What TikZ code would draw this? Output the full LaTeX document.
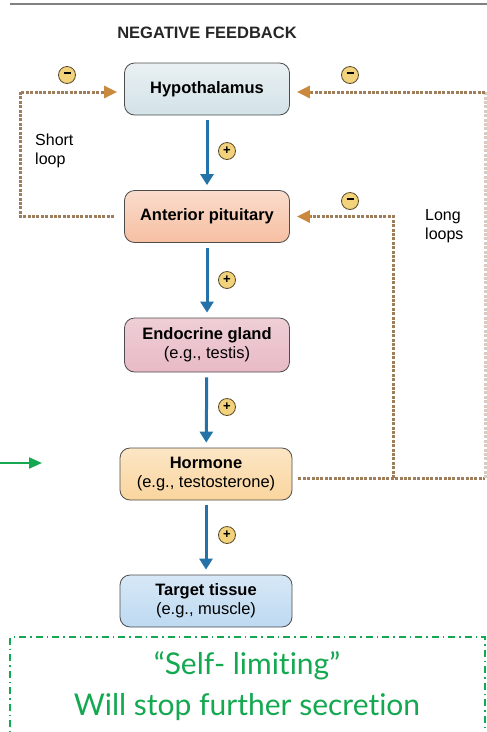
\documentclass[tikz,border=0pt]{standalone}
\usepackage{fontspec}
\setmainfont{Liberation Sans}
\newfontfamily\greenfont[Ligatures={NoCommon}]{Lato}
\usetikzlibrary{arrows.meta,calc}
\definecolor{loopc}{HTML}{9E7D5B}
\definecolor{loophead}{HTML}{C98A3F}
\definecolor{bluec}{HTML}{2472A8}
\definecolor{greenc}{HTML}{14A850}
\definecolor{signfill}{HTML}{F3D27C}
\definecolor{signdraw}{HTML}{5A4A2A}
\definecolor{hypfill}{HTML}{D3E2E7}
\definecolor{antfill}{HTML}{F6BFA2}
\definecolor{endfill}{HTML}{E8BAC5}
\definecolor{horfill}{HTML}{FAD59E}
\definecolor{tarfill}{HTML}{BDD9F1}
\tikzset{
  organ/.style={draw=black!70, line width=0.8pt, rounded corners=10pt, minimum width=165pt, minimum height=52pt, align=center, font=\fontsize{16.5}{19}\selectfont},
  stim/.style={bluec, line width=3pt, -{Triangle[width=13pt,length=11pt]}, shorten <=5pt, shorten >=5pt},
  fb/.style={loopc, line width=3pt, dash pattern=on 3pt off 1.4pt},
  fbhead/.style={loophead, line width=3pt, -{Triangle[width=12pt,length=13pt]}},
  sign/.style={circle, draw=signdraw, fill=signfill, line width=0.8pt, minimum size=17pt, inner sep=0pt, font=\fontsize{13}{13}\selectfont\bfseries},
  lbl/.style={align=left, anchor=north west, inner sep=0pt, font=\fontsize{16}{19}\selectfont}
}
\begin{document}
\begin{tikzpicture}[x=1pt,y=-1pt]
\useasboundingbox (0,0) rectangle (487,732);
% top rule
\draw[black!50, line width=2pt] (10,4) -- (487,4);
\node[font=\fontsize{16.5}{18}\selectfont\bfseries, text=black!85] (title) at (207,33) {NEGATIVE FEEDBACK};
% boxes
\node[organ, top color=hypfill!50, bottom color=hypfill] (hyp) at (207,89) {\textbf{Hypothalamus}};
\node[organ, top color=antfill!55, bottom color=antfill] (ant) at (207,216.5) {\textbf{Anterior pituitary}};
\node[organ, minimum height=54pt, top color=endfill!70, bottom color=endfill] (end) at (207,345) {\textbf{Endocrine gland}\\(e.g., testis)};
\node[organ, minimum width=172pt, top color=horfill!60, bottom color=horfill] (hor) at (206,474) {\textbf{Hormone}\\(e.g., testosterone)};
\node[organ, minimum width=172pt, top color=tarfill!60, bottom color=tarfill] (tar) at (206,601) {\textbf{Target tissue}\\(e.g., muscle)};
% stimulatory arrows
\draw[stim] (hyp) -- (ant);
\draw[stim] (ant) -- (end);
\draw[stim] (end) -- (hor);
\draw[stim] (hor) -- (tar);
\node[sign] (p1) at (227,151) {+};
\node[sign] (p2) at (227,280) {+};
\node[sign] (p3) at (227,407) {+};
\node[sign] (p4) at (227,535) {+};
% short loop
\coordinate (s1) at (20,216.5);
\coordinate (s2) at (20,92);
\coordinate (s3) at (104,92);
\draw[fb] ($(ant.west)+(-10,0)$) -- (s1) -- (s2) -- (s3);
\draw[fbhead] (s3) -- ($(hyp.west)+(-7,3)$);
\node[sign] (m1) at (67,75) {\rule[3.5pt]{7pt}{1.6pt}};
\node[lbl] (short) at (35,134) {Short\\loop};
% long loops
\coordinate (l0) at ($(hor.east)+(6,4)$);
\coordinate (l1) at (393,478);
\coordinate (l2) at (485,478);
\coordinate (l3) at (485,92);
\coordinate (l4) at (311,92);
\coordinate (l5) at (393,216.5);
\coordinate (l6) at (311,216.5);
\draw[fb] (l0) -- (l2);
\draw[fb, loopc!40] (l2) -- (l3);
\draw[fb] (l3) -- (l4);
\draw[fb] (l1) -- (l5) -- (l6);
\draw[fbhead] (l4) -- ($(hyp.east)+(7,3)$);
\draw[fbhead] (l6) -- ($(ant.east)+(7,0)$);
\node[sign] (m2) at (350,75) {\rule[3.5pt]{7pt}{1.6pt}};
\node[sign] (m3) at (350,201) {\rule[3.5pt]{7pt}{1.6pt}};
\node[lbl] (long) at (425,209) {Long\\loops};
% green annotation
\coordinate (g0) at (0,463);
\coordinate (g1) at (42,463);
\draw[greenc, line width=2pt, -{Triangle[width=11pt,length=13pt]}] (g0) -- (g1);
\draw[greenc, line width=1.5pt, dash pattern=on 7pt off 4pt on 1.5pt off 4pt] (10,760) -- (10,637) -- (485,637) -- (485,760);
\node[text=greenc, font=\greenfont\fontsize{30}{41}\selectfont, align=center] (note) at (247,686) {“Self- limiting”\\Will stop further secret\kern0pt ion};
\end{tikzpicture}
\end{document}
